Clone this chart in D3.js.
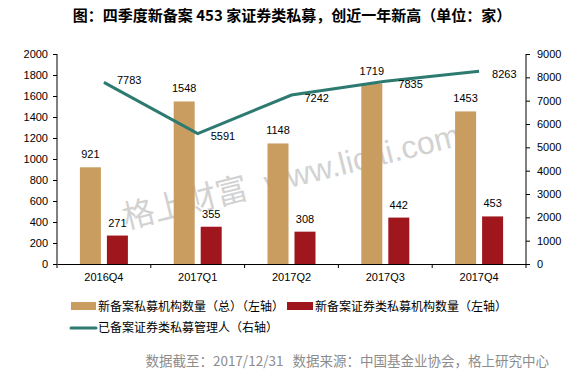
<!DOCTYPE html>
<html>
<head>
<meta charset="utf-8">
<script src="https://cdn.jsdelivr.net/npm/d3@7"></script>
<style>
  body { margin: 0; background: #fff; }
  svg { display: block; font-family: "Liberation Sans", Arial, sans-serif; }
  .cn { font-family: "Noto Sans CJK SC", sans-serif; }
</style>
</head>
<body>
<svg width="584" height="377"></svg>
<script>
var quarters = ["2016Q4", "2017Q1", "2017Q2", "2017Q3", "2017Q4"];
var totalNew = [921, 1548, 1148, 1719, 1453];
var secNew = [271, 355, 308, 442, 453];
var secManagers = [7783, 5591, 7242, 7835, 8263];
var leftTicks = [0, 200, 400, 600, 800, 1000, 1200, 1400, 1600, 1800, 2000];
var rightTicks = [0, 1000, 2000, 3000, 4000, 5000, 6000, 7000, 8000, 9000];

var svg = d3.select("svg"),
    margin = {left: 57, right: 58, top: 54, bottom: 113},
    width = +svg.attr("width") - margin.left - margin.right,
    height = +svg.attr("height") - margin.top - margin.bottom;

var tan = "#c99c60", red = "#a0161d", teal = "#2c7a70";

svg.append("text").attr("class", "cn")
    .attr("x", 292).attr("y", 21)
    .attr("text-anchor", "middle")
    .style("font-size", "15px").style("font-weight", "bold")
    .text("图：四季度新备案 453 家证券类私募，创近一年新高（单位：家）");

var g = svg.append("g").attr("transform", "translate(" + margin.left + "," + margin.top + ")");

var x = d3.scaleBand().domain(quarters).range([0, width]);
var yL = d3.scaleLinear().domain([0, 2000]).range([height, 0]);
var yR = d3.scaleLinear().domain([0, 9000]).range([height, 0]);

// watermark
var wm = g.append("text")
    .attr("transform", "translate(237,133) rotate(-14)")
    .attr("text-anchor", "middle")
    .style("font-size", "32px").style("fill", "#d2d2d2");
wm.append("tspan").attr("class", "cn").text("格上财富");
wm.append("tspan").attr("dx", 18).style("font-family", "'Liberation Sans', Arial, sans-serif").text("www.licai.com");

var barW = 21, gap = 6;

g.selectAll(".tot").data(quarters).enter().append("rect")
    .attr("x", function(d) { return x(d) + x.bandwidth() / 2 - gap / 2 - barW; })
    .attr("y", function(d, i) { return yL(totalNew[i]); })
    .attr("width", barW)
    .attr("height", function(d, i) { return height - yL(totalNew[i]); })
    .attr("fill", tan);

g.selectAll(".sec").data(quarters).enter().append("rect")
    .attr("x", function(d) { return x(d) + x.bandwidth() / 2 + gap / 2; })
    .attr("y", function(d, i) { return yL(secNew[i]); })
    .attr("width", barW)
    .attr("height", function(d, i) { return height - yL(secNew[i]); })
    .attr("fill", red);

g.selectAll(".totl").data(quarters).enter().append("text")
    .attr("x", function(d) { return x(d) + x.bandwidth() / 2 - gap / 2 - barW / 2; })
    .attr("y", function(d, i) { return yL(totalNew[i]) - 9; })
    .attr("text-anchor", "middle").style("font-size", "11px")
    .text(function(d, i) { return totalNew[i]; });

g.selectAll(".secl").data(quarters).enter().append("text")
    .attr("x", function(d) { return x(d) + x.bandwidth() / 2 + gap / 2 + barW / 2; })
    .attr("y", function(d, i) { return yL(secNew[i]) - 9; })
    .attr("text-anchor", "middle").style("font-size", "11px")
    .text(function(d, i) { return secNew[i]; });

var line = d3.line()
    .x(function(d, i) { return x(quarters[i]) + x.bandwidth() / 2; })
    .y(function(d) { return yR(d); });

g.append("path").datum(secManagers)
    .attr("d", line)
    .attr("fill", "none").attr("stroke", teal).attr("stroke-width", 3);

g.selectAll(".linel").data(secManagers).enter().append("text")
    .attr("x", function(d, i) { return x(quarters[i]) + x.bandwidth() / 2 + 13; })
    .attr("y", function(d, i) { return yR(d) + (i === 0 ? -2 : 3); })
    .attr("dy", "0.35em").style("font-size", "11px")
    .text(function(d) { return d; });

// axes
var fmt = d3.format("d");
var axL = g.append("g").call(d3.axisLeft(yL).tickValues(leftTicks).tickFormat(fmt).tickSize(4).tickPadding(5));
var axR = g.append("g").attr("transform", "translate(" + width + ",0)")
    .call(d3.axisRight(yR).tickValues(rightTicks).tickFormat(fmt).tickSize(4).tickPadding(7));
var axX = g.append("g").attr("transform", "translate(0," + height + ")")
    .call(d3.axisBottom(x).tickSize(0).tickPadding(9));

axX.selectAll(".tick").append("line")
    .attr("x1", -x.bandwidth() / 2).attr("x2", -x.bandwidth() / 2)
    .attr("y2", 4).attr("stroke", "#000");
axX.append("line").attr("x1", width).attr("x2", width).attr("y2", 4).attr("stroke", "#000");

[axL, axR, axX].forEach(function(a) {
  a.select(".domain").attr("stroke", "#000");
  a.selectAll("text").style("font-size", "11px").style("fill", "#000")
      .style("font-family", "'Liberation Sans', Arial, sans-serif");
});
axL.select(".domain").attr("d", "M0," + height + "V0");
axR.select(".domain").attr("d", "M0," + height + "V0");

// legend
var legend = svg.append("g").attr("class", "cn").style("font-size", "12px");
legend.append("rect").attr("x", 71).attr("y", 302).attr("width", 25).attr("height", 8).attr("fill", tan);
legend.append("text").attr("x", 98).attr("y", 311).text("新备案私募机构数量（总）（左轴）");
legend.append("rect").attr("x", 287).attr("y", 302).attr("width", 26).attr("height", 8).attr("fill", red);
legend.append("text").attr("x", 315).attr("y", 311).text("新备案证券类私募机构数量（左轴）");
legend.append("line").attr("x1", 71).attr("x2", 96).attr("y1", 328).attr("y2", 328)
    .attr("stroke", teal).attr("stroke-width", 3).attr("stroke-linecap", "round");
legend.append("text").attr("x", 98).attr("y", 332).text("已备案证券类私募管理人（右轴）");

svg.append("text").attr("class", "cn")
    .attr("x", 549).attr("y", 366).attr("text-anchor", "end")
    .style("font-size", "13.5px").style("fill", "#8c8c8c")
    .text("数据截至：2017/12/31\u00a0\u00a0\u00a0数据来源：中国基金业协会，格上研究中心");
</script>
</body>
</html>
